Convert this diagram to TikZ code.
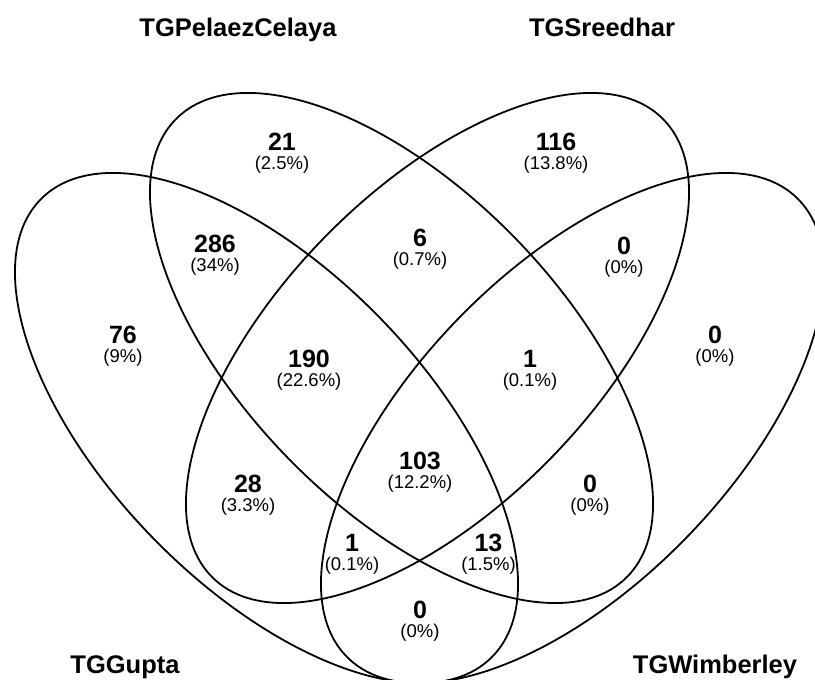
\documentclass[tikz,border=0pt]{standalone}
\usepackage{fontspec}
\setmainfont{Liberation Sans}
% count label + share label of one Venn region, given in pixel-style coords (y down)
\newcommand\vennregion[5]{%
  \node[count] (#1n) at (#2,{680-#3}) {#4};
  \node[share] (#1p) at (#2,{680-#3-23}) {#5};
}
\begin{document}
\begin{tikzpicture}[x=1pt,y=1pt,
  setline/.style={line width=1.8pt},
  setname/.style={font=\fontsize{25.5}{30}\selectfont\bfseries, anchor=base, inner sep=0pt},
  count/.style={font=\fontsize{25}{30}\selectfont\bfseries, inner sep=0pt},
  share/.style={font=\fontsize{18.5}{22}\selectfont, inner sep=0pt}]
\fill[white] (0,0) rectangle (815,680);
\clip (0,0) rectangle (815,680);

% the four sets
\draw[setline, rotate around={-45.65:(266.5,252)}] (266.5,252) ellipse [x radius=321.4pt, y radius=158.1pt];
\draw[setline, rotate around={-45.65:(401.5,332)}] (401.5,332) ellipse [x radius=321.4pt, y radius=158.1pt];
\draw[setline, rotate around={45.65:(437.5,332)}] (437.5,332) ellipse [x radius=321.4pt, y radius=158.1pt];
\draw[setline, rotate around={45.65:(572.5,252)}] (572.5,252) ellipse [x radius=321.4pt, y radius=158.1pt];

% set names
\node[setname] (pelaez) at (238,643) {TGPelaezCelaya};
\node[setname] (sreedhar) at (602,643) {TGSreedhar};
\node[setname] (gupta) at (125,6) {TGGupta};
\node[setname] (wimberley) at (715,6) {TGWimberley};

% region counts
\vennregion{rA}{282}{142}{21}{(2.5\%)}
\vennregion{rB}{556}{142}{116}{(13.8\%)}
\vennregion{rC}{215}{244}{286}{(34\%)}
\vennregion{rD}{420}{238}{6}{(0.7\%)}
\vennregion{rE}{624}{246}{0}{(0\%)}
\vennregion{rF}{123}{335}{76}{(9\%)}
\vennregion{rG}{715}{335}{0}{(0\%)}
\vennregion{rH}{309}{359}{190}{(22.6\%)}
\vennregion{rI}{530}{359}{1}{(0.1\%)}
\vennregion{rJ}{420}{461}{103}{(12.2\%)}
\vennregion{rK}{248}{484}{28}{(3.3\%)}
\vennregion{rL}{590}{484}{0}{(0\%)}
\vennregion{rM}{352}{543}{1}{(0.1\%)}
\vennregion{rN}{488.5}{543}{13}{(1.5\%)}
\vennregion{rO}{420}{610}{0}{(0\%)}
\end{tikzpicture}
\end{document}
